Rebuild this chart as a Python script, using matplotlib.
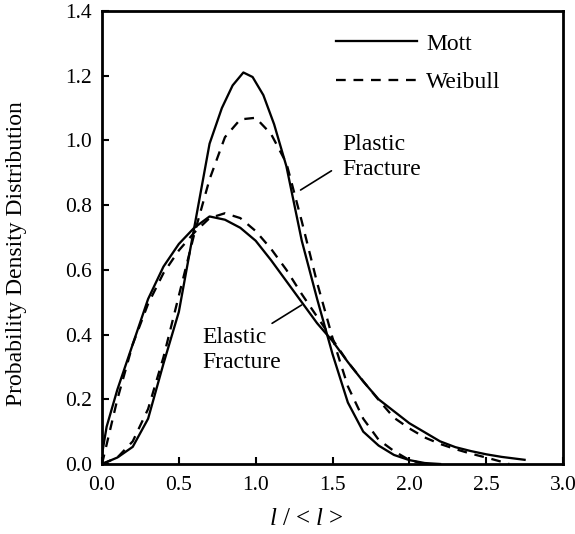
import matplotlib
matplotlib.use("Agg")
import matplotlib.pyplot as plt
from matplotlib.lines import Line2D

plt.rcParams['font.family'] = ['Liberation Serif', 'DejaVu Serif']
plt.rcParams['mathtext.fontset'] = 'custom'
plt.rcParams['mathtext.rm'] = 'Liberation Serif'
plt.rcParams['mathtext.it'] = 'Liberation Serif:italic'
plt.rcParams['lines.scale_dashes'] = False

# ---- data ----
plastic_mott_x = [0.0, 0.1, 0.2, 0.3, 0.4, 0.5, 0.6, 0.7, 0.78, 0.85, 0.92, 0.98, 1.05, 1.12, 1.2, 1.3, 1.4, 1.5, 1.6, 1.7, 1.8, 1.9, 2.0, 2.1, 2.2]
plastic_mott_y = [0.0, 0.02, 0.053, 0.14, 0.31, 0.47, 0.73, 0.99, 1.10, 1.17, 1.21, 1.196, 1.14, 1.05, 0.92, 0.69, 0.51, 0.34, 0.19, 0.10, 0.057, 0.028, 0.012, 0.003, 0.0]

plastic_weibull_x = [0.0, 0.1, 0.2, 0.3, 0.4, 0.5, 0.6, 0.7, 0.8, 0.9, 1.0, 1.1, 1.2, 1.3, 1.4, 1.5, 1.6, 1.7, 1.8, 1.9, 2.0, 2.1]
plastic_weibull_y = [0.0, 0.02, 0.07, 0.17, 0.33, 0.52, 0.71, 0.88, 1.01, 1.065, 1.07, 1.02, 0.93, 0.75, 0.56, 0.39, 0.24, 0.14, 0.075, 0.04, 0.012, 0.0]

elastic_mott_x = [0.0, 0.03, 0.1, 0.2, 0.3, 0.4, 0.5, 0.6, 0.7, 0.8, 0.9, 1.0, 1.1, 1.2, 1.3, 1.4, 1.5, 1.6, 1.7, 1.8, 1.9, 2.0, 2.1, 2.2, 2.3, 2.4, 2.5, 2.6, 2.7, 2.75]
elastic_mott_y = [0.03, 0.115, 0.23, 0.37, 0.51, 0.61, 0.68, 0.73, 0.765, 0.755, 0.73, 0.69, 0.63, 0.565, 0.50, 0.435, 0.38, 0.315, 0.255, 0.20, 0.163, 0.126, 0.098, 0.07, 0.052, 0.04, 0.03, 0.022, 0.016, 0.013]

elastic_weibull_x = [0.0, 0.1, 0.2, 0.3, 0.4, 0.5, 0.6, 0.7, 0.8, 0.9, 1.0, 1.1, 1.2, 1.3, 1.4, 1.5, 1.6, 1.7, 1.8, 1.9, 2.0, 2.1, 2.2, 2.3, 2.4, 2.5, 2.6, 2.65]
elastic_weibull_y = [0.0, 0.20, 0.37, 0.495, 0.59, 0.66, 0.715, 0.76, 0.775, 0.76, 0.72, 0.665, 0.60, 0.525, 0.455, 0.385, 0.315, 0.256, 0.198, 0.143, 0.11, 0.082, 0.062, 0.046, 0.032, 0.02, 0.007, 0.0]

x_ticks = [0.0, 0.5, 1.0, 1.5, 2.0, 2.5, 3.0]
y_ticks = [0.0, 0.2, 0.4, 0.6, 0.8, 1.0, 1.2, 1.4]
series_labels = ["Mott", "Weibull"]

W, H = 575, 534
fig = plt.figure(figsize=(W / 100, H / 100), dpi=100)
ax = fig.add_axes([102 / W, 1 - 464 / H, (563 - 102) / W, (464 - 11) / H])

lw = 1.65
dash = (7, 5.6)
ax.plot(plastic_mott_x, plastic_mott_y, color='black', lw=lw)
ax.plot(elastic_mott_x, elastic_mott_y, color='black', lw=lw)
ax.plot(plastic_weibull_x, plastic_weibull_y, color='black', lw=lw, dashes=dash)
ax.plot(elastic_weibull_x, elastic_weibull_y, color='black', lw=lw, dashes=dash)

ax.set_xlim(0, 3.0)
ax.set_ylim(0, 1.4)
ax.set_xticks(x_ticks)
ax.set_yticks(y_ticks)
ax.set_xticklabels([f"{v:.1f}" for v in x_ticks])
ax.set_yticklabels([f"{v:.1f}" for v in y_ticks])
ax.tick_params(direction='in', length=5, width=1.5, labelsize=15.5, top=False, right=False)
ax.tick_params(axis='x', pad=9)
ax.tick_params(axis='y', pad=7)
for s in ax.spines.values():
    s.set_linewidth(2)

fig.text(17 / W, 1 - 254 / H, "Probability Density Distribution", fontsize=17,
         rotation=90, ha='center', va='center')
fig.text(306 / W, 1 - 519 / H, r"$l$ / < $l$ >", fontsize=18, ha='center', va='center')

handles = [Line2D([], [], color='black', lw=lw),
           Line2D([], [], color='black', lw=lw, dashes=dash)]
ax.legend(handles, series_labels, loc='upper left',
          bbox_to_anchor=((336 - 102) / 461, 1 - (33 - 11) / 453),
          frameon=False, fontsize=17, handlelength=3.45, handletextpad=0.38,
          labelspacing=0.72, borderaxespad=0, borderpad=0)

# annotations
ax.annotate("Plastic\nFracture", xy=((301 - 102) / 154, (464 - 190) / 323.6),
            xytext=((343 - 102) / 154, (464 - 157) / 323.6), fontsize=17, ha='left', va='center',
            linespacing=1.25,
            arrowprops=dict(arrowstyle='-', color='black', lw=1.2, shrinkA=7, shrinkB=0,
                            relpos=(0, 0.35)))
ax.annotate("Elastic\nFracture", xy=((302 - 102) / 154, (464 - 305) / 323.6),
            xytext=((203 - 102) / 154, (464 - 350) / 323.6), fontsize=17, ha='left', va='center',
            linespacing=1.25,
            arrowprops=dict(arrowstyle='-', color='black', lw=1.2, shrinkA=0, shrinkB=0,
                            relpos=(0.88, 1.08)))

fig.savefig("out.png", dpi=100)
